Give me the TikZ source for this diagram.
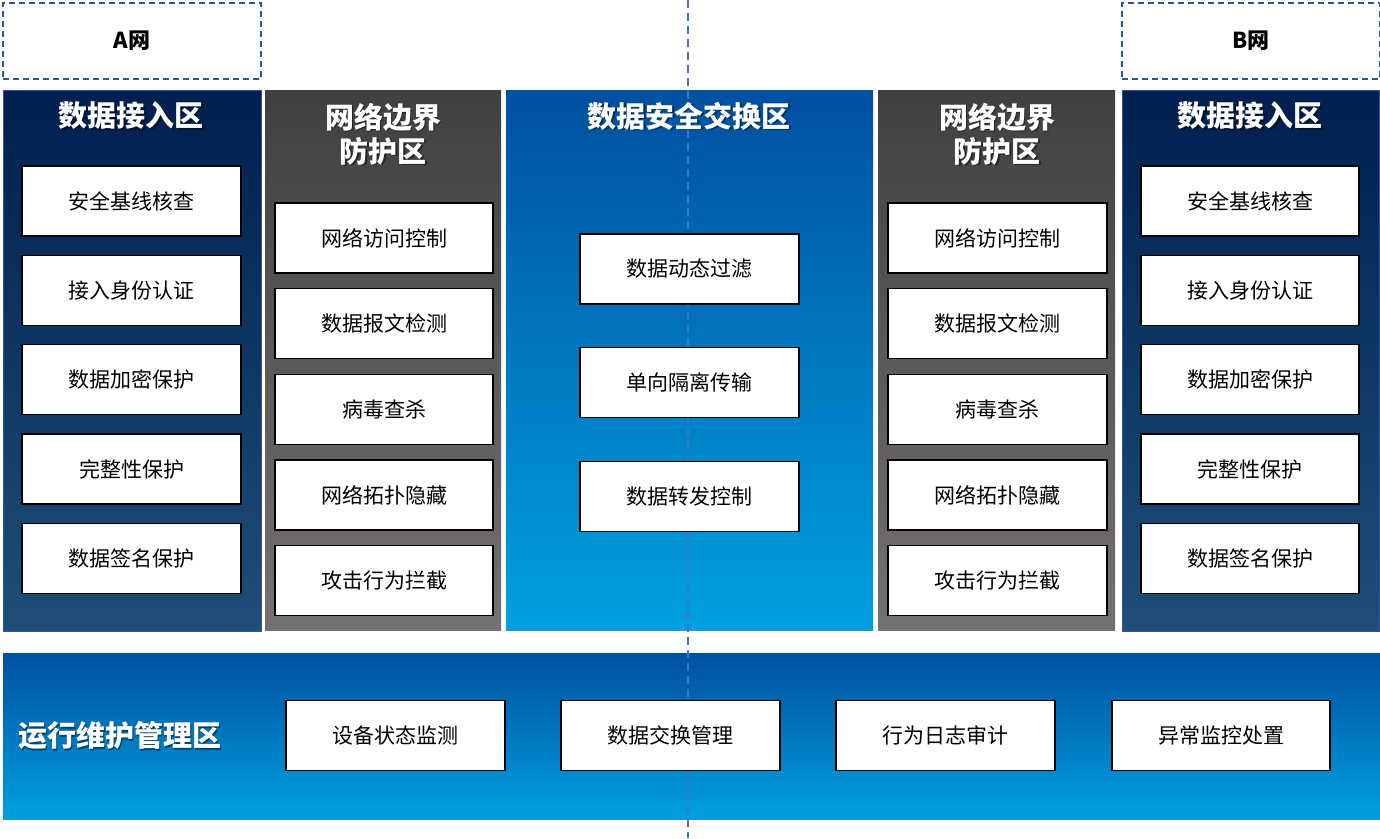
\documentclass[tikz,border=0pt]{standalone}
\usepackage{fontspec}
\setmainfont{Noto Sans CJK SC}
\definecolor{navyT}{HTML}{00204F}
\definecolor{navyB}{HTML}{1F4E79}
\definecolor{grayT}{HTML}{404040}
\definecolor{grayB}{HTML}{767171}
\definecolor{blueT}{HTML}{0050A0}
\definecolor{blueB}{HTML}{00A0E0}
\definecolor{dashC}{HTML}{2F5597}
\definecolor{lineC}{HTML}{4472C4}
\begin{document}
\begin{tikzpicture}[x=1pt,y=1pt,
  box/.style={draw=black,line width=1.3pt,fill=white,minimum width=219pt,minimum height=70pt,inner sep=0pt,font=\fontsize{21}{25}\selectfont},
  zone/.style={anchor=north west,inner sep=0pt,draw=none},
  navyzone/.style={zone,top color=navyT,bottom color=navyB,draw=dashC,line width=1.5pt},
  grayzone/.style={zone,top color=grayT,bottom color=grayB},
  bluezone/.style={zone,top color=blueT,bottom color=blueB},
  netbox/.style={draw=dashC,dash pattern=on 6pt off 4pt,line width=1.8pt,minimum width=258pt,minimum height=76pt,inner sep=0pt,anchor=north west,font=\fontsize{22}{26}\selectfont\bfseries},
  title/.style={text=white,font=\fontsize{29}{34}\selectfont\bfseries,align=center,inner sep=0pt},
  tshadow/.style={text=black,opacity=0.45,font=\fontsize{29}{34}\selectfont\bfseries,align=center,inner sep=0pt},
  midline/.style={draw=lineC,line width=1.6pt,dash pattern=on 8pt off 5pt}
]
\useasboundingbox (0,0) rectangle (1380,-838);
% network labels
\node[netbox] (netA) at (2,-2) {A网};
\node[netbox] (netB) at (1121,-2) {B网};
% zones
\node[navyzone,minimum width=258pt,minimum height=541pt] (zA) at (2.5,-89.5) {};
\node[grayzone,minimum width=236pt,minimum height=540pt] (zGA) at (265,-90) {};
\node[bluezone,minimum width=367pt,minimum height=540pt] (zC) at (506,-90) {};
\node[grayzone,minimum width=237pt,minimum height=540pt] (zGB) at (878,-90) {};
\node[navyzone,minimum width=257pt,minimum height=541pt] (zB) at (1121.5,-89.5) {};
\node[bluezone,minimum width=1377pt,minimum height=166pt] (zM) at (3,-653) {};
% center dashed line
\coordinate (lt) at (688,0);
\coordinate (lb) at (688,-838);
\draw[midline] (lt) -- (lb);
% titles
\node[tshadow] (tAs) at (132.5,-117.5) {数据接入区};
\node[title] (tA) at (131,-116) {数据接入区};
\node[tshadow] (tGAs) at (384.5,-135.5) {网络边界\\防护区};
\node[title] (tGA) at (383,-134) {网络边界\\防护区};
\node[tshadow] (tCs) at (690.5,-117.5) {数据安全交换区};
\node[title] (tC) at (689,-116) {数据安全交换区};
\node[tshadow] (tGBs) at (998.5,-135.5) {网络边界\\防护区};
\node[title] (tGB) at (997,-134) {网络边界\\防护区};
\node[tshadow] (tBs) at (1251.5,-117.5) {数据接入区};
\node[title] (tB) at (1250,-116) {数据接入区};
\node[tshadow,anchor=west] (tMs) at (19.5,-737.5) {运行维护管理区};
\node[title,anchor=west] (tM) at (18,-736) {运行维护管理区};
% left access boxes
\node[box] (a1) at (131.5,-201) {安全基线核查};
\node[box] (a2) at (131.5,-290.5) {接入身份认证};
\node[box] (a3) at (131.5,-379.5) {数据加密保护};
\node[box] (a4) at (131.5,-469) {完整性保护};
\node[box] (a5) at (131.5,-558.5) {数据签名保护};
% left boundary boxes
\node[box,minimum width=218pt] (g1) at (384,-238) {网络访问控制};
\node[box,minimum width=218pt] (g2) at (384,-323.5) {数据报文检测};
\node[box,minimum width=218pt] (g3) at (384,-409.5) {病毒查杀};
\node[box,minimum width=218pt] (g4) at (384,-495) {网络拓扑隐藏};
\node[box,minimum width=218pt] (g5) at (384,-580.5) {攻击行为拦截};
% center boxes
\node[box] (c1) at (689.5,-269) {数据动态过滤};
\node[box] (c2) at (689.5,-382.5) {单向隔离传输};
\node[box] (c3) at (689.5,-496.5) {数据转发控制};
% right boundary boxes
\node[box] (h1) at (997.5,-238) {网络访问控制};
\node[box] (h2) at (997.5,-323.5) {数据报文检测};
\node[box] (h3) at (997.5,-409.5) {病毒查杀};
\node[box] (h4) at (997.5,-495) {网络拓扑隐藏};
\node[box] (h5) at (997.5,-580.5) {攻击行为拦截};
% right access boxes
\node[box,minimum width=218pt] (b1) at (1250,-201) {安全基线核查};
\node[box,minimum width=218pt] (b2) at (1250,-290.5) {接入身份认证};
\node[box,minimum width=218pt] (b3) at (1250,-379.5) {数据加密保护};
\node[box,minimum width=218pt] (b4) at (1250,-469) {完整性保护};
\node[box,minimum width=218pt] (b5) at (1250,-558.5) {数据签名保护};
% management boxes
\node[box] (m1) at (395.5,-735.5) {设备状态监测};
\node[box] (m2) at (670.5,-735.5) {数据交换管理};
\node[box] (m3) at (945.5,-735.5) {行为日志审计};
\node[box,minimum width=218pt] (m4) at (1221,-735.5) {异常监控处置};
\end{tikzpicture}
\end{document}
